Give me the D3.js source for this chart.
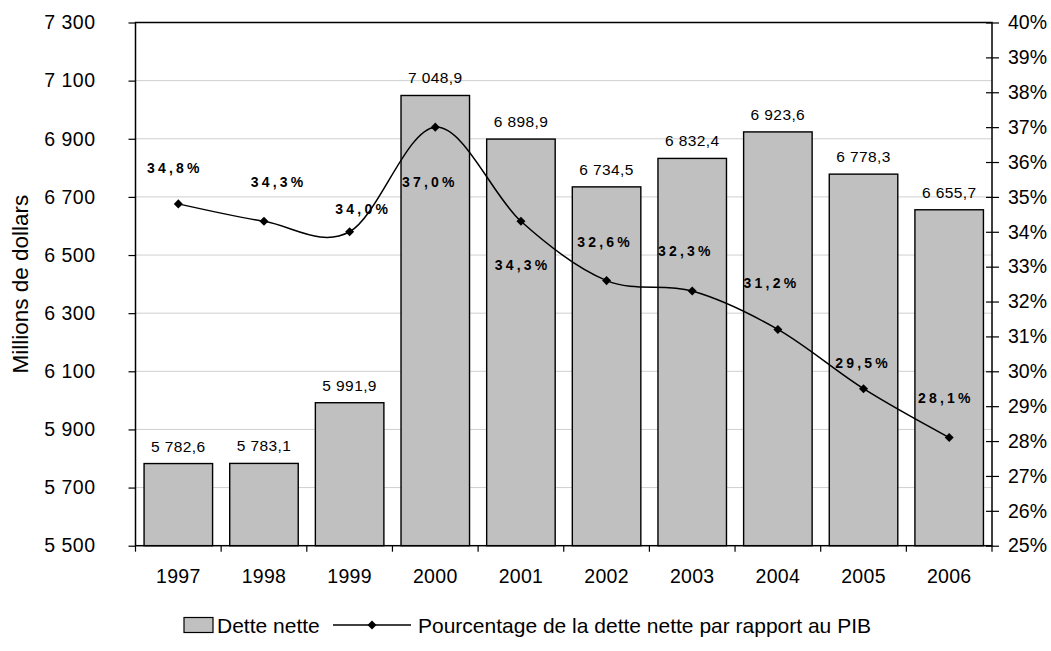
<!DOCTYPE html>
<html>
<head>
<meta charset="utf-8">
<script src="https://cdn.jsdelivr.net/npm/d3@7"></script>
<style>
  html, body { margin: 0; padding: 0; background: #fff; }
  svg { display: block; font-family: "Liberation Sans", Arial, sans-serif; }
</style>
</head>
<body>
<svg id="chart" width="1051" height="651"></svg>
<script>
// Dette nette (millions de dollars) et ratio dette nette / PIB (%)
const years = ["1997", "1998", "1999", "2000", "2001", "2002", "2003", "2004", "2005", "2006"];
const netDebt = [5782.6, 5783.1, 5991.9, 7048.9, 6898.9, 6734.5, 6832.4, 6923.6, 6778.3, 6655.7];
const debtToGdp = [34.8, 34.3, 34.0, 37.0, 34.3, 32.6, 32.3, 31.2, 29.5, 28.1];
const leftTicks = [5500, 5700, 5900, 6100, 6300, 6500, 6700, 6900, 7100, 7300];
const rightTicks = [25, 26, 27, 28, 29, 30, 31, 32, 33, 34, 35, 36, 37, 38, 39, 40];
const seriesNames = ["Dette nette", "Pourcentage de la dette nette par rapport au PIB"];

// Placement of each percentage label relative to its point (px)
const pctLabelOffset = [[-5, -36], [13, -39], [12, -23], [-7, 55], [0, 44],
                        [-3, -39], [-8, -40], [-8, -46], [-2, -26], [-5, -40]];

const fr = d3.formatLocale({ decimal: ",", thousands: "\u00a0", grouping: [3], currency: ["", " $"] });
const fmtInt = fr.format(",d");
const fmtVal = fr.format(",.1f");
const fmtPct = fr.format(".1f");

const svg = d3.select("#chart");
const plot = { left: 135.5, right: 992, top: 22.5, bottom: 545.7 };

const x = d3.scaleBand().domain(years).range([plot.left, plot.right])
  .paddingInner(0.2).paddingOuter(0.1);
const yL = d3.scaleLinear().domain([5500, 7300]).range([plot.bottom, plot.top]);
const yR = d3.scaleLinear().domain([25, 40]).range([plot.bottom, plot.top]);

// Horizontal gridlines
svg.append("g").selectAll("line").data(leftTicks.slice(1, -1)).join("line")
  .attr("x1", plot.left).attr("x2", plot.right)
  .attr("y1", d => yL(d)).attr("y2", d => yL(d))
  .attr("stroke", "#cfcfcf").attr("stroke-width", 1);

// Bars
svg.append("g").selectAll("rect").data(netDebt).join("rect")
  .attr("x", (d, i) => x(years[i]))
  .attr("y", d => yL(d))
  .attr("width", x.bandwidth())
  .attr("height", d => yL(5500) - yL(d))
  .attr("fill", "#c0c0c0").attr("stroke", "#000").attr("stroke-width", 1.4);

// Bar value labels
svg.append("g").selectAll("text").data(netDebt).join("text")
  .attr("x", (d, i) => x(years[i]) + x.bandwidth() / 2)
  .attr("y", d => yL(d) - 12)
  .attr("text-anchor", "middle")
  .attr("font-size", 15.5).attr("letter-spacing", 0.4)
  .text(d => fmtVal(d));

// Plot frame
svg.append("rect")
  .attr("x", plot.left).attr("y", plot.top)
  .attr("width", plot.right - plot.left).attr("height", plot.bottom - plot.top)
  .attr("fill", "none").attr("stroke", "#000").attr("stroke-width", 1.5);

// Left axis
const axL = svg.append("g").attr("transform", `translate(${plot.left},0)`)
  .call(d3.axisLeft(yL).tickValues(leftTicks).tickFormat(fmtInt).tickSize(7).tickPadding(33));
axL.select(".domain").remove();
axL.selectAll("line").attr("stroke", "#000").attr("stroke-width", 1.2);
axL.selectAll("text").attr("font-size", 19.5).attr("font-family", "Liberation Sans, Arial, sans-serif")
  .attr("fill", "#000").attr("letter-spacing", 0.5);

// Right axis (ticks cross the axis line)
const axR = svg.append("g").attr("transform", `translate(${plot.right},0)`)
  .call(d3.axisRight(yR).tickValues(rightTicks).tickFormat(d => d + "%").tickSize(7).tickPadding(9));
axR.select(".domain").remove();
axR.selectAll("line").attr("x1", -6).attr("stroke", "#000").attr("stroke-width", 1.2);
axR.selectAll("text").attr("font-size", 19.5).attr("font-family", "Liberation Sans, Arial, sans-serif")
  .attr("fill", "#000");

// Bottom axis: ticks at category boundaries
const bounds = years.map(y => x(y) - x.step() * x.paddingInner() / 2).concat([plot.right]);
svg.append("g").selectAll("line").data(bounds).join("line")
  .attr("x1", d => d).attr("x2", d => d)
  .attr("y1", plot.bottom).attr("y2", plot.bottom + 6)
  .attr("stroke", "#000").attr("stroke-width", 1.2);
svg.append("g").selectAll("text").data(years).join("text")
  .attr("x", d => x(d) + x.bandwidth() / 2)
  .attr("y", plot.bottom + 37)
  .attr("text-anchor", "middle").attr("font-size", 19.5).attr("letter-spacing", 0.3)
  .text(d => d);

// Y axis title
svg.append("text")
  .attr("transform", `translate(28,${(plot.top + plot.bottom) / 2}) rotate(-90)`)
  .attr("text-anchor", "middle").attr("font-size", 22.5)
  .text("Millions de dollars");

// Percentage line (smoothed) and markers
const cx = (i) => x(years[i]) + x.bandwidth() / 2;
const line = d3.line().x((d, i) => cx(i)).y(d => yR(d)).curve(d3.curveCatmullRom.alpha(0));
svg.append("path").datum(debtToGdp)
  .attr("d", line).attr("fill", "none").attr("stroke", "#000").attr("stroke-width", 1.5);

const diamond = d3.symbol().type(d3.symbolDiamond2).size(52);
svg.append("g").selectAll("path").data(debtToGdp).join("path")
  .attr("transform", (d, i) => `translate(${cx(i)},${yR(d)})`)
  .attr("d", diamond).attr("fill", "#000");

// Percentage labels
svg.append("g").selectAll("text").data(debtToGdp).join("text")
  .attr("x", (d, i) => cx(i) + pctLabelOffset[i][0] + 1.6)
  .attr("y", (d, i) => yR(d) + pctLabelOffset[i][1])
  .attr("dominant-baseline", "central")
  .attr("text-anchor", "middle")
  .attr("font-size", 14).attr("font-weight", "bold").attr("letter-spacing", 3.2)
  .text(d => fmtPct(d) + "%");

// Legend
const lg = svg.append("g").attr("transform", "translate(0,625)");
lg.append("rect").attr("x", 184).attr("y", -7.5).attr("width", 29).attr("height", 15)
  .attr("fill", "#c0c0c0").attr("stroke", "#000").attr("stroke-width", 1.2);
lg.append("text").attr("x", 217).attr("y", 0).attr("dominant-baseline", "central")
  .attr("font-size", 21).text(seriesNames[0]);
lg.append("line").attr("x1", 333).attr("x2", 411).attr("y1", 0).attr("y2", 0)
  .attr("stroke", "#000").attr("stroke-width", 1.5);
lg.append("path").attr("transform", "translate(372,0)").attr("d", diamond).attr("fill", "#000");
lg.append("text").attr("x", 418).attr("y", 0).attr("dominant-baseline", "central")
  .attr("font-size", 21).text(seriesNames[1]);
</script>
</body>
</html>
